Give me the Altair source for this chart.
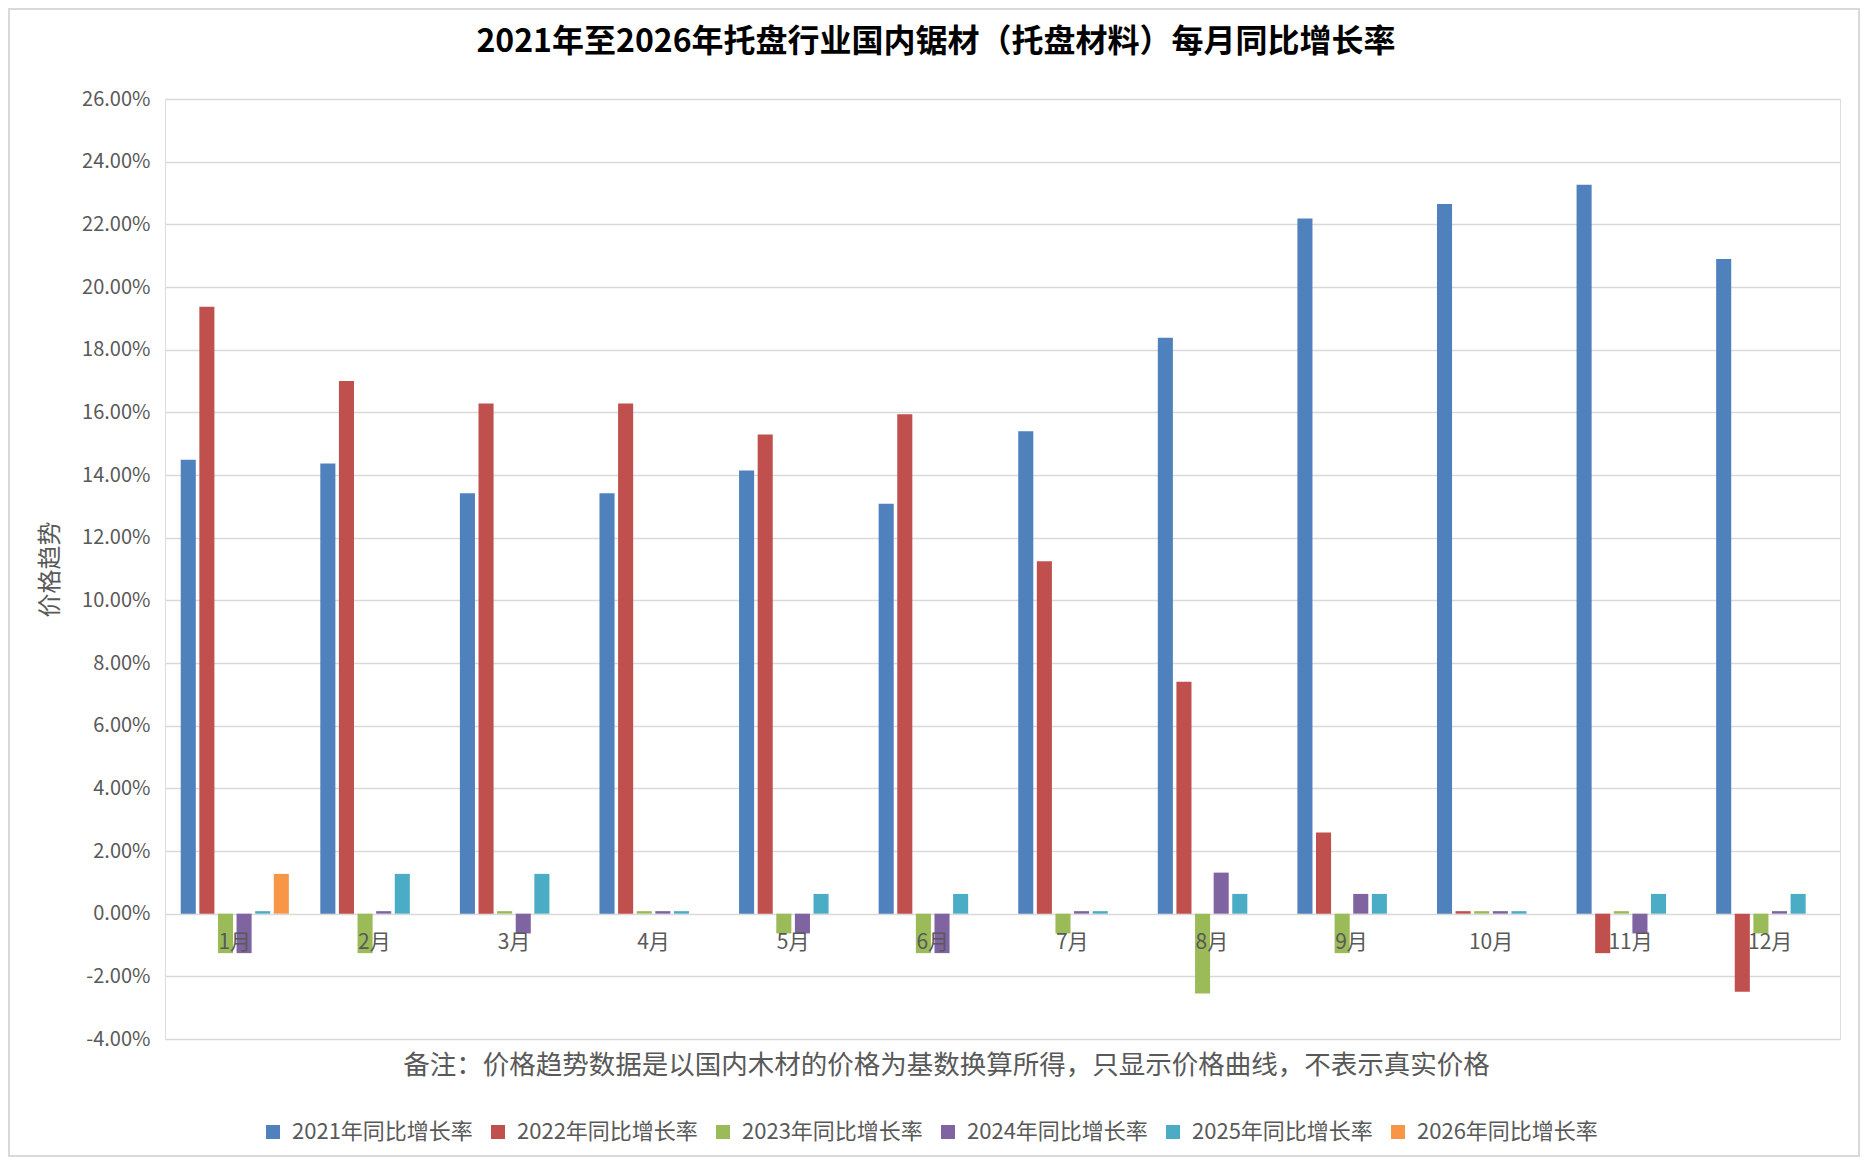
import altair as alt
import pandas as pd

FONT = "Noto Sans CJK SC"

months = [f"{i}月" for i in range(1, 13)]
series = ["2021年同比增长率", "2022年同比增长率", "2023年同比增长率",
          "2024年同比增长率", "2025年同比增长率", "2026年同比增长率"]
colors = ["#4F81BD", "#C0504D", "#9BBB59", "#8064A2", "#4BACC6", "#F79646"]

v2021 = [14.49, 14.37, 13.42, 13.42, 14.14, 13.08, 15.40, 18.38, 22.19, 22.65, 23.26, 20.89]
v2022 = [19.37, 17.00, 16.28, 16.28, 15.29, 15.94, 11.25, 7.40, 2.59, 0.08, -1.26, -2.49]
v2023 = [-1.26, -1.26, 0.08, 0.08, -0.63, -1.26, -0.63, -2.55, -1.26, 0.08, 0.08, -0.63]
v2024 = [-1.26, 0.08, -0.63, 0.08, -0.63, -1.26, 0.08, 1.31, 0.63, 0.08, -0.63, 0.08]
v2025 = [0.08, 1.27, 1.27, 0.08, 0.63, 0.63, 0.08, 0.63, 0.63, 0.08, 0.63, 0.63]
v2026 = [1.27, None, None, None, None, None, None, None, None, None, None, None]

y_ticks = list(range(-4, 27, 2))
title_text = "2021年至2026年托盘行业国内锯材（托盘材料）每月同比增长率"
note_text = "备注：价格趋势数据是以国内木材的价格为基数换算所得，只显示价格曲线，不表示真实价格"
y_title = "价格趋势"

rows = []
for s, vals in zip(series, [v2021, v2022, v2023, v2024, v2025, v2026]):
    for m, v in zip(months, vals):
        if v is not None:
            rows.append({"month": m, "series": s, "value": v})
df = pd.DataFrame(rows)

W, H = 1675, 940
PL, PT, PR, PB = 157, 91, 20, 118

xscale = alt.Scale(domain=months, paddingInner=0.2, paddingOuter=0.1)
yscale = alt.Scale(domain=[-4, 26], nice=False, zero=False)

x_enc = alt.X("month:N", sort=months, scale=xscale,
              axis=alt.Axis(labels=False, ticks=False, domain=False, grid=False,
                            title=note_text, titleFont=FONT, titleFontSize=26.5,
                            titleFontWeight="normal", titleColor="#595959",
                            titleX=781, titleY=26, titleAlign="center",
                            titleBaseline="middle"))

bars = alt.Chart(df).mark_bar().encode(
    x=x_enc,
    xOffset=alt.XOffset("series:N", sort=series,
                        scale=alt.Scale(domain=series, paddingInner=0.19, paddingOuter=0.095)),
    y=alt.Y("value:Q", scale=yscale,
            axis=alt.Axis(values=y_ticks,
                          labelExpr="(datum.value < 0 ? '-' : '') + format(abs(datum.value), '.2f') + '%'",
                          labelFont=FONT, labelFontSize=20, labelColor="#595959",
                          labelPadding=15, ticks=False, domain=False,
                          gridColor="#D9D9D9", gridWidth=1.6,
                          title=y_title, titleFont=FONT, titleFontSize=24,
                          titleFontWeight="normal", titleColor="#595959",
                          titleAngle=-90, titleX=-115, titleY=470,
                          titleAlign="center", titleBaseline="middle")),
    color=alt.Color("series:N", sort=series, scale=alt.Scale(domain=series, range=colors),
                    legend=alt.Legend(orient="none", legendX=97, legendY=1022,
                                      direction="horizontal", columns=6, title=None,
                                      symbolType="square", symbolSize=196,
                                      symbolStrokeWidth=0, labelFont=FONT,
                                      labelFontSize=22, labelColor="#595959",
                                      labelLimit=500, labelOffset=8, columnPadding=14)),
)

month_labels = alt.Chart(pd.DataFrame({"month": months})).mark_text(
    font=FONT, fontSize=21, color="#595959", baseline="middle", dy=29
).encode(
    x=x_enc,
    y=alt.datum(0),
    text="month:N",
)

title_mark = alt.Chart(pd.DataFrame({"t": [title_text]})).mark_text(
    font=FONT, fontSize=32, fontWeight="bold", color="black",
    align="center", baseline="middle"
).encode(
    x=alt.value(771), y=alt.value(-57), text="t:N",
)

border = alt.Chart(pd.DataFrame({"b": [0]})).mark_rect(
    fillOpacity=0, stroke="#D9D9D9", strokeWidth=2
).encode(
    x=alt.value(-PL + 1), x2=alt.value(W + PR - 1),
    y=alt.value(-PT + 1), y2=alt.value(H + PB - 1),
)

chart = alt.layer(bars, month_labels, title_mark, border).properties(
    width=W, height=H,
    padding={"left": PL, "top": PT, "right": PR, "bottom": PB},
    autosize=alt.AutoSizeParams(type="none"),
).configure_view(strokeWidth=0).configure(background="white")

chart.save("out.html", embed_options={"renderer": "svg", "actions": False})
